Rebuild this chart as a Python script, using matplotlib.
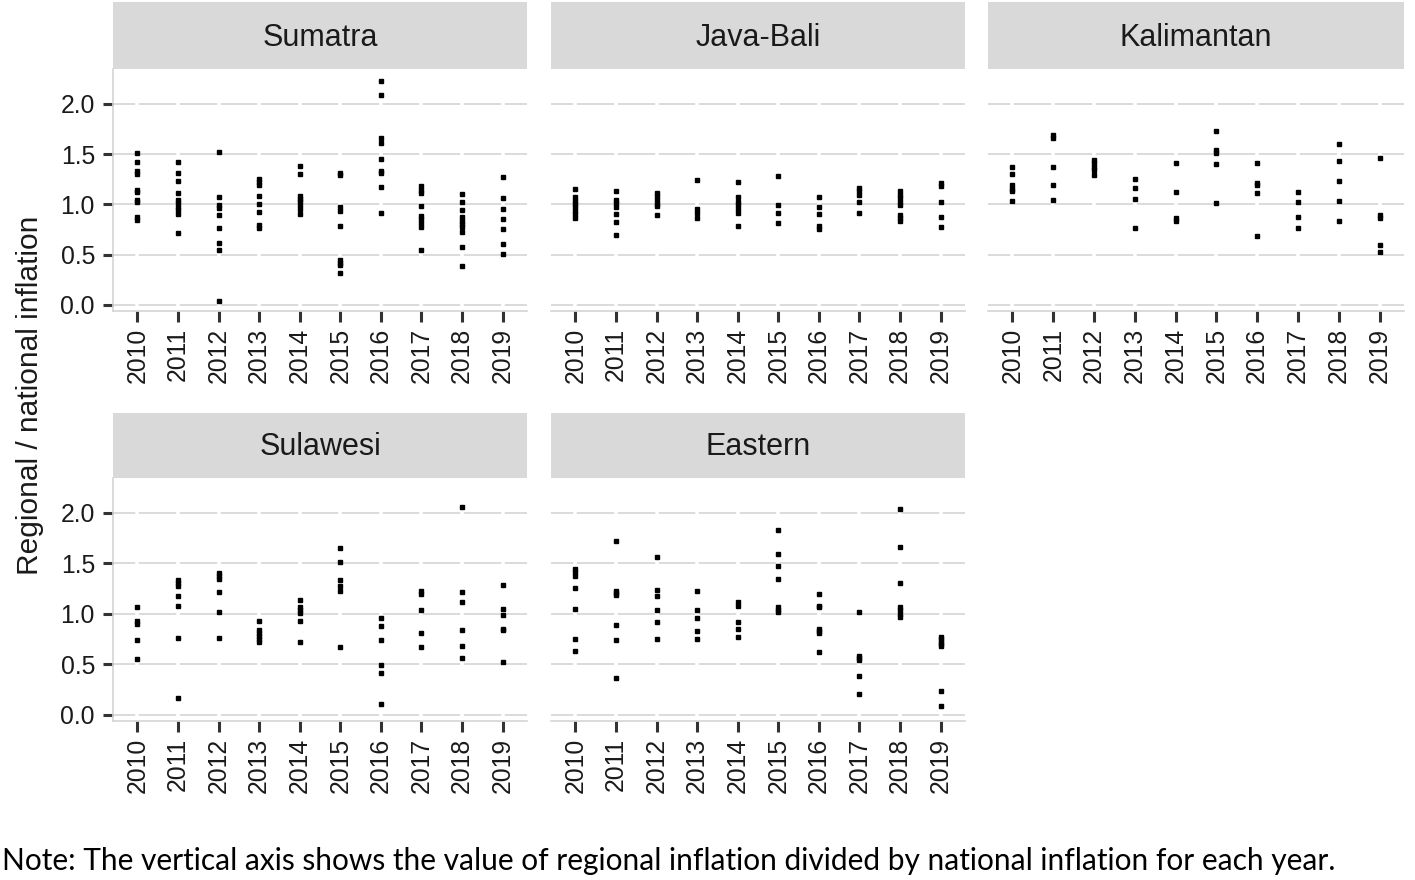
import matplotlib
matplotlib.use("Agg")
import matplotlib.pyplot as plt

plt.rcParams['font.family'] = ['Liberation Sans', 'DejaVu Sans']
SANS = "Liberation Sans"

years = [2010, 2011, 2012, 2013, 2014, 2015, 2016, 2017, 2018, 2019]
regions = ["Sumatra", "Java-Bali", "Kalimantan", "Sulawesi", "Eastern"]

sumatra = [
    [1.51, 1.42, 1.33, 1.30, 1.14, 1.12, 1.04, 1.02, 0.87, 0.84],
    [1.42, 1.31, 1.23, 1.11, 1.04, 1.01, 0.97, 0.94, 0.90, 0.72],
    [1.52, 1.07, 0.99, 0.96, 0.89, 0.76, 0.62, 0.55, 0.04],
    [1.25, 1.22, 1.19, 1.08, 1.00, 0.92, 0.79, 0.76],
    [1.38, 1.30, 1.08, 1.05, 1.03, 0.99, 0.95, 0.90],
    [1.31, 1.29, 0.97, 0.93, 0.78, 0.45, 0.42, 0.40, 0.32],
    [2.23, 2.09, 1.66, 1.61, 1.45, 1.33, 1.31, 1.17, 0.91],
    [1.18, 1.14, 1.11, 0.98, 0.88, 0.85, 0.81, 0.77, 0.55],
    [1.10, 1.02, 0.94, 0.87, 0.83, 0.80, 0.77, 0.73, 0.58, 0.39],
    [1.27, 1.06, 0.95, 0.85, 0.75, 0.61, 0.51],
]
java_bali = [
    [1.15, 1.07, 1.03, 1.00, 0.97, 0.93, 0.90, 0.86],
    [1.13, 1.04, 1.01, 0.97, 0.90, 0.82, 0.70],
    [1.11, 1.08, 1.04, 1.00, 0.98, 0.89],
    [1.24, 0.95, 0.91, 0.86],
    [1.22, 1.07, 1.02, 0.99, 0.95, 0.91, 0.78],
    [1.28, 0.99, 0.91, 0.81],
    [1.07, 0.97, 0.90, 0.78, 0.75],
    [1.16, 1.13, 1.09, 1.02, 0.91],
    [1.13, 1.09, 1.06, 1.02, 0.99, 0.89, 0.86, 0.83],
    [1.21, 1.18, 1.02, 0.87, 0.77],
]
kalimantan = [
    [1.37, 1.30, 1.19, 1.15, 1.13, 1.03],
    [1.69, 1.66, 1.37, 1.19, 1.04],
    [1.44, 1.41, 1.37, 1.34, 1.29],
    [1.25, 1.16, 1.05, 0.76],
    [1.41, 1.12, 0.86, 0.83],
    [1.73, 1.54, 1.51, 1.40, 1.01],
    [1.41, 1.21, 1.19, 1.11, 0.69],
    [1.12, 1.02, 0.87, 0.76],
    [1.60, 1.43, 1.23, 1.03, 0.83],
    [1.46, 0.89, 0.86, 0.60, 0.53],
]
sulawesi = [
    [1.07, 0.93, 0.90, 0.74, 0.55],
    [1.34, 1.31, 1.28, 1.18, 1.08, 0.76, 0.17],
    [1.40, 1.38, 1.35, 1.22, 1.02, 0.76],
    [0.93, 0.84, 0.81, 0.78, 0.75, 0.72],
    [1.14, 1.07, 1.04, 1.01, 0.93, 0.72],
    [1.65, 1.51, 1.34, 1.28, 1.23, 0.67],
    [0.96, 0.88, 0.74, 0.49, 0.42, 0.11],
    [1.23, 1.20, 1.04, 0.81, 0.67],
    [2.06, 1.22, 1.12, 0.84, 0.68, 0.56],
    [1.29, 1.05, 0.99, 0.85, 0.84, 0.52],
]
eastern = [
    [1.44, 1.41, 1.38, 1.26, 1.05, 0.75, 0.63],
    [1.72, 1.23, 1.21, 1.19, 0.89, 0.74, 0.37],
    [1.56, 1.24, 1.18, 1.04, 0.92, 0.75],
    [1.23, 1.04, 0.96, 0.83, 0.75],
    [1.12, 1.08, 0.92, 0.85, 0.77],
    [1.83, 1.59, 1.47, 1.35, 1.07, 1.04, 1.02],
    [1.20, 1.08, 1.07, 0.85, 0.83, 0.81, 0.62],
    [1.02, 0.58, 0.56, 0.54, 0.39, 0.21],
    [2.04, 1.66, 1.31, 1.07, 1.04, 1.00, 0.97],
    [0.77, 0.75, 0.72, 0.70, 0.68, 0.24, 0.09],
]
region_data = [sumatra, java_bali, kalimantan, sulawesi, eastern]

yticks = [0.0, 0.5, 1.0, 1.5, 2.0]
ytick_labels = ["0.0", "0.5", "1.0", "1.5", "2.0"]
ylabel = "Regional / national inflation"
note = ("Note: The vertical axis shows the value of regional inflation divided "
        "by national inflation for each year.")

W, H = 1415, 880
fig = plt.figure(figsize=(W / 100, H / 100), dpi=100)

col_x = [(113, 527), (551, 965), (988, 1404)]
row_plot = [(69, 311), (478, 721)]
row_strip = [(2, 69), (413, 478)]

GRID = "#d4d4d4"
STRIP = "#d9d9d9"
TICK = "#333333"
FS = 17.8

for i, (name, data) in enumerate(zip(regions, region_data)):
    r, c = divmod(i, 3)
    x0, x1 = col_x[c]
    py0, py1 = row_plot[r]
    sy0, sy1 = row_strip[r]
    ax = fig.add_axes([x0 / W, 1 - py1 / H, (x1 - x0) / W, (py1 - py0) / H])
    sax = fig.add_axes([x0 / W, 1 - sy1 / H, (x1 - x0) / W, (sy1 - sy0) / H])
    sax.set_facecolor(STRIP)
    sax.set_xticks([]); sax.set_yticks([])
    for s in sax.spines.values():
        s.set_visible(False)
    sax.text(0.5, 0.47, name, ha="center", va="center", fontsize=22,
             color="#1a1a1a", transform=sax.transAxes, family=SANS)

    for k, (yr, vals) in enumerate(zip(years, data)):
        ax.plot([k] * len(vals), vals, linestyle="none", marker="s",
                markersize=3.5, color="black", zorder=3, clip_on=False)

    ax.set_xlim(-0.6, len(years) - 1 + 0.6)
    ax.set_ylim(-0.06, 2.345)
    ax.set_axisbelow(True)
    ax.yaxis.grid(True, color=GRID, linewidth=1.2, zorder=0.5)
    for k in range(len(years)):
        ax.axvline(k, color="white", linewidth=2.6, zorder=1)
    ax.set_xticks(range(len(years)))
    ax.set_xticklabels([str(y) for y in years], rotation=90, fontsize=FS,
                       color="#1a1a1a", family=SANS)
    ax.set_yticks(yticks)
    ax.tick_params(axis="x", length=8, width=2.2, color=TICK, pad=4)
    if c == 0:
        ax.set_yticklabels(ytick_labels, fontsize=FS, color="#1a1a1a",
                           family=SANS)
        ax.tick_params(axis="y", length=7, width=2.2, color=TICK, pad=6)
        ax.spines["left"].set_color(GRID)
        ax.spines["left"].set_linewidth(1.2)
    else:
        ax.set_yticklabels([])
        ax.tick_params(axis="y", length=0)
        ax.spines["left"].set_visible(False)
    ax.spines["top"].set_visible(False)
    ax.spines["right"].set_visible(False)
    ax.spines["bottom"].set_color(GRID)
    ax.spines["bottom"].set_linewidth(1.2)

fig.text(30 / W, 1 - 395 / H, ylabel, rotation=90, ha="center", va="center",
         fontsize=21.5, color="#1a1a1a", family=SANS)

t = fig.text(0.0015, 1 - 870 / H, note, ha="left", va="baseline",
             fontsize=20, color="black", family=["Lato", "DejaVu Sans"])
fig.canvas.draw()
w = t.get_window_extent().width
t.set_fontsize(20 * 1333 / w)

fig.savefig("out.png", dpi=100, facecolor="white")
